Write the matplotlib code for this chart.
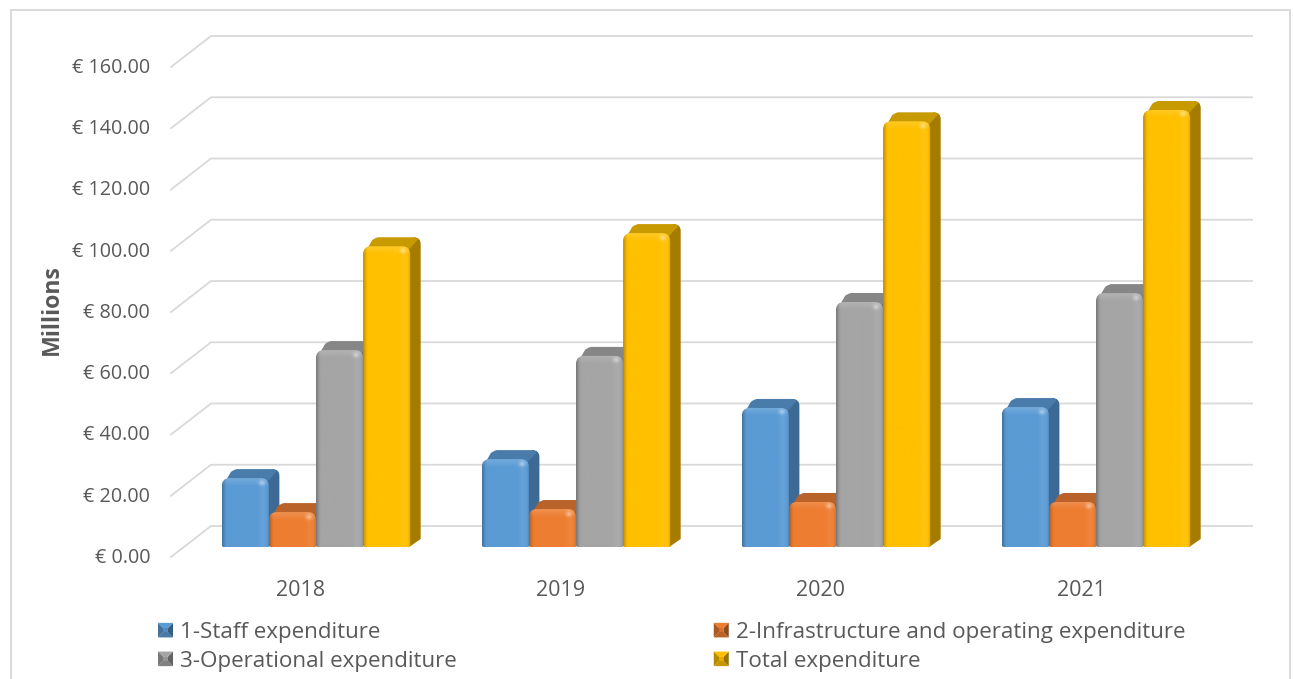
import numpy as np
import matplotlib
matplotlib.use("Agg")
import matplotlib.pyplot as plt
from matplotlib.colors import to_rgb
from matplotlib.legend_handler import HandlerBase
from matplotlib.patches import Patch, PathPatch, Polygon
from matplotlib.path import Path

plt.rcParams["font.family"] = ["Open Sans", "DejaVu Sans"]

years = ["2018", "2019", "2020", "2021"]
series_names = ["1-Staff expenditure", "2-Infrastructure and operating expenditure",
                "3-Operational expenditure", "Total expenditure"]
staff = [22.5, 28.7, 45.4, 45.7]
infrastructure = [11.4, 12.4, 14.7, 14.7]
operational = [64.3, 62.4, 80.0, 82.9]
total = [98.2, 102.5, 139.0, 142.7]
value_ticks = [0, 20, 40, 60, 80, 100, 120, 140, 160]

series_values = [staff, infrastructure, operational, total]
front_colors = ["#5b9bd5", "#ed7d31", "#a5a5a5", "#ffc000"]
side_colors = ["#3d6a94", "#a5561f", "#737373", "#a67c00"]
top_colors = ["#4a7cab", "#b9622a", "#868686", "#c79a00"]
GRID = "#d9d9d9"
TEXT = "#595959"

W, H = 1293, 679
PXX = 1 / 260.0            # category units per pixel
PXY = 1 / 3.0625           # value units per pixel
X0_PX, Y0_PX = 316.0, 547.0

fig = plt.figure(figsize=(W / 100, H / 100), dpi=100, facecolor="white")
ax = fig.add_axes([0, 0, 1, 1])
ax.axis("off")
xlim = (-X0_PX * PXX, (W - X0_PX) * PXX)
ylim = (-(H - Y0_PX) * PXY, Y0_PX * PXY)


def rounded(x0, x1, y0, y1, rt, rb):
    """Rounded rectangle in data units; rt and rb are pixel radii."""
    tx, ty, bx, by = rt * PXX, rt * PXY, rb * PXX, rb * PXY
    v = [(x0 + bx, y0), (x1 - bx, y0), (x1, y0), (x1, y0 + by), (x1, y1 - ty), (x1, y1),
         (x1 - tx, y1), (x0 + tx, y1), (x0, y1), (x0, y1 - ty), (x0, y0 + by), (x0, y0),
         (x0 + bx, y0), (x0 + bx, y0)]
    c = [Path.MOVETO, Path.LINETO, Path.CURVE3, Path.CURVE3, Path.LINETO, Path.CURVE3,
         Path.CURVE3, Path.LINETO, Path.CURVE3, Path.CURVE3, Path.LINETO, Path.CURVE3,
         Path.CURVE3, Path.CLOSEPOLY]
    return Path(v, c)


def shade(color, wpx, hpx):
    """Bevel shading of a bar's front face as an RGB array."""
    nx, ny = int(wpx * 2), max(int(hpx * 2), 4)
    xs = (np.arange(nx) + 0.5) / 2
    ys = (np.arange(ny) + 0.5) / 2          # distance from the top, pixels
    base = np.array(to_rgb(color))
    img = np.ones((ny, nx, 3)) * base
    xx, yy = np.meshgrid(xs, ys)
    dark = 0.30 * np.clip(1 - xx / 5, 0, 1) ** 1.5 + 0.16 * np.clip(1 - (wpx - xx) / 3, 0, 1)
    light = 0.07 * np.clip(1 - np.abs(xx - (wpx - 7)) / 5, 0, 1)
    light = light + 0.16 * np.clip(1 - yy / 8, 0, 1)
    light = light + 0.35 * np.exp(-(((xx - (wpx - 8)) / 3) ** 2 + ((yy - 5) / 2.5) ** 2))
    img = img * (1 - dark[..., None])
    img = img + (1 - img) * np.clip(light, 0, 1)[..., None]
    return np.clip(img, 0, 1)


def side_path(x1, v, dx, dy):
    verts = [(x1 - 4 * PXX, 0), (x1 - 1 * PXX, 0), (x1 + dx, dy - 1 * PXY), (x1 + dx, dy + 2 * PXY),
             (x1 + dx, v + dy - 7 * PXY), (x1 + dx, v + dy), (x1 + dx - 7 * PXX, v + dy),
             (x1 - 8 * PXX, v), (x1 - 4 * PXX, 0)]
    codes = [Path.MOVETO, Path.LINETO, Path.LINETO, Path.LINETO, Path.LINETO, Path.CURVE3,
             Path.CURVE3, Path.LINETO, Path.CLOSEPOLY]
    return Path(verts, codes)


def top_path(x0, x1, v, dx, dy):
    verts = [(x0 + 1 * PXX, v - 8 * PXY), (x0 + 9 * PXX, v + dy - 3 * PXY),
             (x0 + 11 * PXX, v + dy - 1 * PXY), (x0 + 15 * PXX, v + dy),
             (x1 + 3 * PXX, v + dy), (x1 + 7 * PXX, v + dy - 0.5 * PXY), (x1 + 8 * PXX, v + dy - 2 * PXY),
             (x1 - 2 * PXX, v - 4 * PXY), (x1 - 8 * PXX, v - 8 * PXY), (x0 + 1 * PXX, v - 8 * PXY)]
    codes = [Path.MOVETO, Path.LINETO, Path.CURVE3, Path.CURVE3, Path.LINETO, Path.CURVE3,
             Path.CURVE3, Path.LINETO, Path.LINETO, Path.CLOSEPOLY]
    return Path(verts, codes)


# frame
ax.plot(np.array([11, 11, 1290, 1290]) * PXX + xlim[0],
        ylim[1] - np.array([679, 10, 10, 679]) * PXY,
        color=GRID, lw=1.4, zorder=1, solid_joinstyle="miter")

# gridlines and value labels
x_front, x_back, x_end = (np.array([171, 211, 1252]) - X0_PX) * PXX
drop_front, rise_back = -10 * PXY, 21 * PXY
for v in value_ticks:
    ax.plot([x_front, x_back, x_end], [v + drop_front, v + rise_back, v + rise_back],
            color=GRID, lw=1.3, zorder=2)
    ax.text(x_front - 21 * PXX, v + drop_front - 1 * PXY, f"€ {v:.2f}", ha="right", va="center",
            color=TEXT, fontsize=14.2)

ax.text((52 - X0_PX) * PXX, (Y0_PX - 310) * PXY, "Millions", rotation=90, ha="center",
        va="center", color=TEXT, fontsize=16.7, fontweight="bold")

# bars
bar_w = 47.1 * PXX
dx, dy = 10.5 * PXX, 9 * PXY
z = 3
for g, year in enumerate(years):
    ax.text(g - 15 * PXX, (Y0_PX - 590) * PXY, year, ha="center", va="center",
            color=TEXT, fontsize=15.5)
    for s in range(4):
        v = series_values[s][g]
        x0 = g + (s - 2) * bar_w
        x1 = x0 + bar_w
        ax.add_patch(PathPatch(side_path(x1, v, dx, dy), fc=side_colors[s], ec="none", zorder=z))
        z += 1
        ax.add_patch(PathPatch(top_path(x0, x1, v, dx, dy), fc=top_colors[s], ec="none", zorder=z))
        z += 1
        clip = PathPatch(rounded(x0, x1, 0, v, 8, 2), fc="none", ec="none",
                         transform=ax.transData)
        ax.add_patch(clip)
        im = ax.imshow(shade(front_colors[s], 47.1, v / PXY), extent=(x0, x1, 0, v), origin="upper",
                       aspect="auto", interpolation="bilinear", zorder=z)
        im.set_clip_path(clip)
        z += 1


class HandlerPyramid(HandlerBase):
    """Bevelled square legend key."""

    def create_artists(self, legend, orig, xd, yd, width, height, fontsize, trans):
        base = np.array(to_rgb(orig.get_facecolor()))
        x0, y0, x1, y1 = -xd, -yd, -xd + width, -yd + height
        ins = 3.9
        a = [(x0, y0), (x1, y0), (x1, y1), (x0, y1)]
        b = [(x0 + ins, y0 + ins), (x1 - ins, y0 + ins), (x1 - ins, y1 - ins), (x0 + ins, y1 - ins)]
        # bottom, right, top, left facets, then the centre
        factors = [0.78, 0.60, 1.0, 0.72]
        out = []
        for i, f in enumerate(factors):
            j = (i + 1) % 4
            out.append(Polygon([a[i], a[j], b[j], b[i]], closed=True, fc=base * f, ec="none",
                               transform=trans))
        out.append(Polygon(b, closed=True, fc=base * 0.9, ec="none", transform=trans))
        return out


fs_pt = 16.1
fs_px = fs_pt * 100 / 72
handles = [Patch(facecolor=c, label=n) for c, n in zip(front_colors, series_names)]
# filled column by column: staff, operational | infrastructure, total
order = [0, 2, 1, 3]
leg = ax.legend([handles[i] for i in order], [series_names[i] for i in order], ncol=2,
                loc="upper left", bbox_to_anchor=(158 / W, 1 - 622 / H),
                bbox_transform=fig.transFigure, frameon=False, fontsize=fs_pt,
                handler_map={Patch: HandlerPyramid()}, labelcolor=TEXT,
                borderpad=0, borderaxespad=0, handlelength=15 / fs_px, handleheight=14 / fs_px,
                handletextpad=7 / fs_px, labelspacing=0.345, columnspacing=257 / fs_px)
leg.set_zorder(z + 1)

ax.set_xlim(*xlim)
ax.set_ylim(*ylim)
fig.savefig("out.png", dpi=100, facecolor="white")
